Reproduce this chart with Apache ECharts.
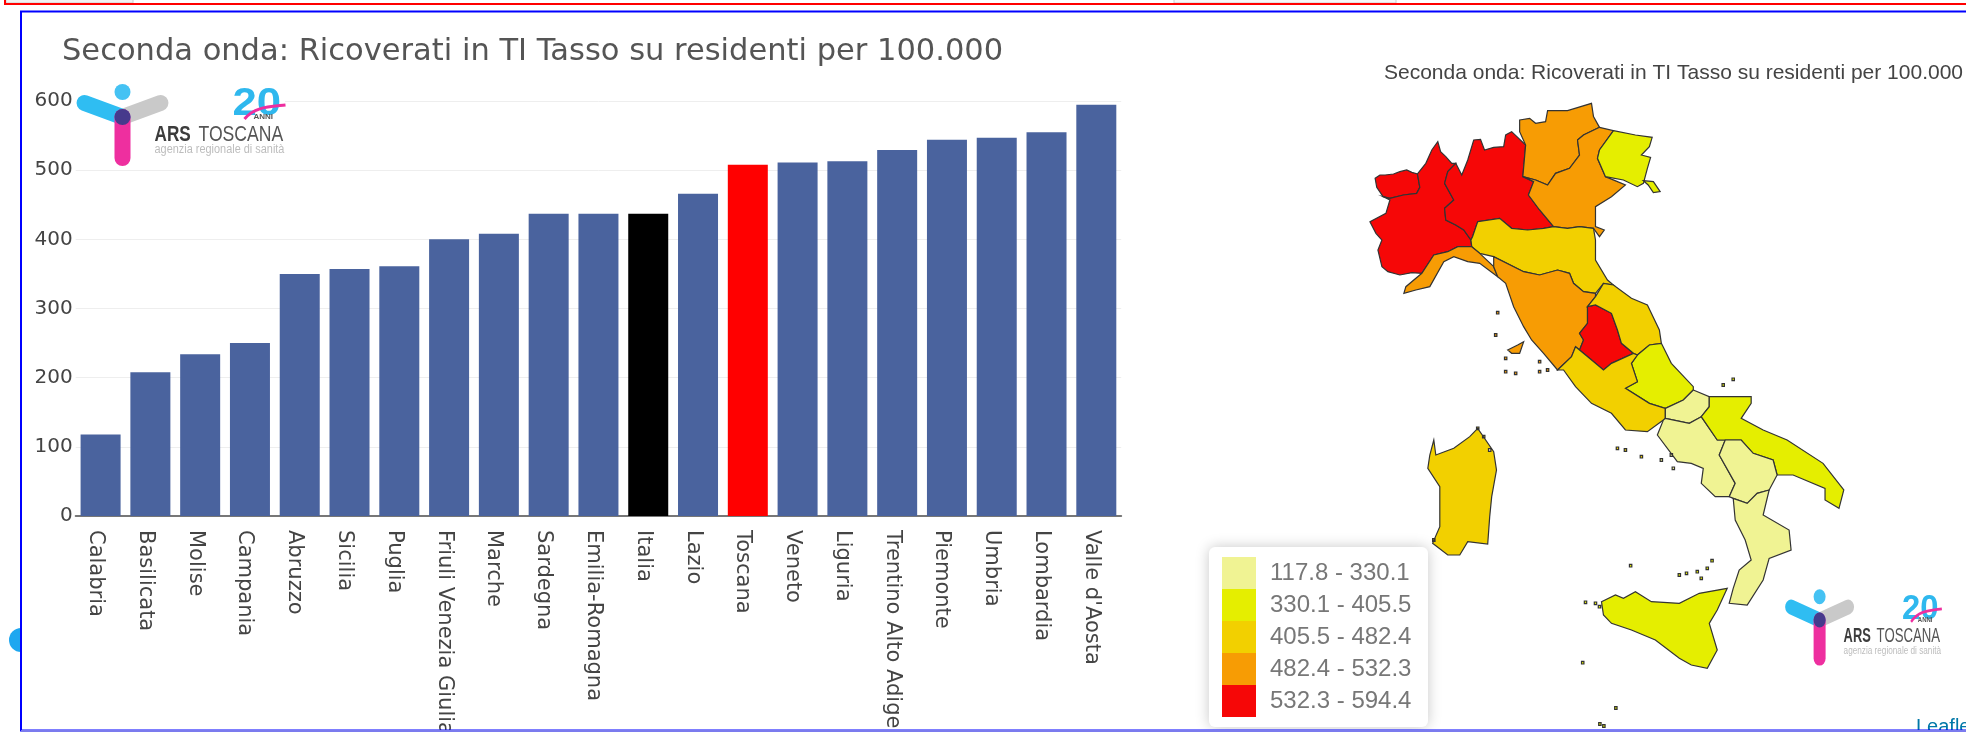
<!DOCTYPE html>
<html>
<head>
<meta charset="utf-8">
<style>
  html, body { margin: 0; padding: 0; background: #fff; overflow: hidden; }
  #chart { width: 1966px; height: 732px; }
</style>
<script src="https://cdn.jsdelivr.net/npm/echarts@6/dist/echarts.min.js"></script>
</head>
<body>
<div id="chart"></div>
<script>
const chartTitle = 'Seconda onda: Ricoverati in TI Tasso su residenti per 100.000'
const categories = ['Calabria', 'Basilicata', 'Molise', 'Campania', 'Abruzzo', 'Sicilia', 'Puglia',
  'Friuli Venezia Giulia', 'Marche', 'Sardegna', 'Emilia-Romagna', 'Italia', 'Lazio', 'Toscana',
  'Veneto', 'Liguria', 'Trentino Alto Adige', 'Piemonte', 'Umbria', 'Lombardia', "Valle d'Aosta"]
const values = [117.8, 208, 234, 250, 350, 357, 361, 400, 408, 437, 437, 437, 466, 508, 511, 513, 529, 544, 547, 555, 594.4]
const highlightColors = { Italia: '#000000', Toscana: '#ff0000' }

const classLabels = ['117.8 - 330.1', '330.1 - 405.5', '405.5 - 482.4', '482.4 - 532.3', '532.3 - 594.4']
const classBreaks = [117.8, 330.1, 405.5, 482.4, 532.3, 594.4]
const classColors = ['#f0f393', '#e5ee00', '#f2d000', '#f79c04', '#f60707']

// outlines (x 2.505 units per px from 1340, y 3 units per px from 40)
const outlines = {
  "Valle d'Aosta": [[[88,415],[100,405],[113,405],[134,402],[150,395],[167,390],[180,397],[194,402],[200,442],[192,460],[159,465],[125,475],[108,470],[92,442]]],
  'Piemonte': [[[245,305],[252,335],[265,350],[280,370],[290,370],[270,395],[262,430],[285,480],[262,505],[265,540],[290,555],[310,570],[328,600],[330,620],[295,620],[270,635],[235,645],[205,700],[180,698],[150,705],[120,695],[105,680],[95,630],[105,600],[90,580],[75,545],[115,520],[125,480],[108,470],[125,475],[159,465],[192,460],[200,442],[194,402],[215,370],[230,330]]],
  'Lombardia': [[[262,430],[270,395],[290,370],[305,405],[320,360],[335,300],[352,298],[362,330],[385,322],[410,320],[415,285],[430,275],[465,315],[458,410],[485,425],[472,465],[500,510],[535,560],[510,565],[470,570],[430,565],[400,535],[345,545],[332,590],[328,600],[310,570],[290,555],[265,540],[262,505],[285,480]]],
  'Trentino Alto Adige': [[[450,240],[475,235],[490,250],[515,245],[520,212],[570,212],[630,190],[635,230],[650,262],[610,285],[595,300],[600,345],[575,385],[540,400],[520,435],[490,420],[458,410],[465,315],[450,275]]],
  'Veneto': [[[650,262],[685,272],[650,330],[645,355],[665,410],[715,435],[680,470],[640,500],[640,560],[662,570],[650,590],[635,565],[600,560],[570,565],[535,560],[500,510],[472,465],[485,425],[458,410],[490,420],[520,435],[540,400],[575,385],[600,345],[595,300],[610,285]]],
  'Friuli Venezia Giulia': [[[685,272],[740,285],[782,292],[775,320],[755,345],[778,352],[770,385],[760,430],[745,440],[710,420],[665,410],[645,355],[650,330]], [[760,422],[785,425],[802,455],[785,458],[772,435]]],
  'Emilia-Romagna': [[[345,545],[400,535],[430,565],[470,570],[510,565],[535,560],[570,565],[600,560],[635,565],[640,600],[640,660],[670,720],[685,735],[660,730],[640,760],[610,755],[585,730],[575,700],[545,690],[500,705],[460,695],[385,650],[350,640],[330,620],[328,600],[332,590]]],
  'Liguria': [[[330,620],[350,640],[385,680],[395,710],[350,670],[320,665],[285,650],[260,665],[225,740],[190,750],[160,760],[165,740],[205,700],[235,645],[270,635],[295,620]]],
  'Toscana': [[[385,650],[460,695],[500,705],[545,690],[575,700],[585,730],[610,755],[640,760],[640,770],[620,800],[620,850],[600,880],[610,900],[600,930],[590,920],[580,950],[545,990],[510,940],[480,900],[460,860],[435,800],[415,730],[395,710],[385,680]], [[420,930],[445,915],[460,905],[450,940],[430,940]]],
  'Umbria': [[[620,800],[640,795],[680,820],[695,870],[705,910],[735,940],[680,970],[660,990],[625,955],[600,930],[610,900],[600,880],[620,850]]],
  'Marche': [[[640,770],[660,730],[685,735],[730,775],[770,795],[800,870],[805,910],[775,915],[745,945],[735,940],[705,910],[695,870],[680,820],[640,795],[620,800]]],
  'Abruzzo': [[[805,910],[830,970],[885,1040],[885,1050],[860,1080],[815,1105],[775,1090],[715,1045],[745,1025],[730,970],[745,945],[775,915]]],
  'Lazio': [[[600,930],[625,955],[660,990],[680,970],[735,940],[745,945],[730,970],[745,1025],[715,1045],[775,1090],[815,1105],[815,1135],[810,1140],[770,1175],[715,1170],[680,1120],[630,1090],[590,1040],[560,990],[545,990],[580,950],[590,920]]],
  'Molise': [[[885,1050],[925,1070],[925,1100],[905,1130],[875,1150],[815,1135],[815,1105],[860,1080]]],
  'Campania': [[[815,1135],[875,1150],[905,1130],[945,1200],[965,1200],[950,1245],[990,1330],[975,1370],[940,1370],[905,1330],[910,1285],[880,1270],[845,1265],[795,1185],[810,1140]]],
  'Puglia': [[[925,1070],[1030,1070],[1030,1090],[1005,1135],[1060,1170],[1120,1200],[1210,1270],[1262,1350],[1250,1405],[1215,1380],[1215,1345],[1135,1305],[1095,1305],[1085,1260],[1035,1240],[1005,1200],[965,1200],[945,1200],[905,1130],[925,1100]]],
  'Basilicata': [[[965,1200],[1005,1200],[1035,1240],[1085,1260],[1095,1305],[1075,1350],[1045,1360],[1020,1390],[985,1375],[975,1370],[990,1330],[950,1245]]],
  'Calabria': [[[985,1375],[1020,1390],[1045,1360],[1075,1350],[1060,1425],[1125,1470],[1130,1530],[1075,1555],[1060,1620],[1020,1695],[975,1690],[985,1645],[1000,1590],[1030,1560],[1015,1500],[990,1440]]],
  'Sardegna': [[[235,1200],[225,1245],[220,1285],[250,1340],[250,1460],[232,1510],[270,1545],[300,1545],[320,1505],[370,1512],[375,1430],[380,1370],[392,1290],[385,1235],[345,1165],[325,1190],[285,1225],[240,1245]]],
  'Sicilia': [[[655,1685],[690,1665],[710,1675],[740,1655],[780,1685],[850,1690],[900,1660],[970,1645],[945,1710],[925,1750],[945,1830],[920,1885],[880,1875],[850,1855],[790,1800],[730,1770],[680,1750],[660,1725]]]
}
const islandDots = {
  'Toscana': [[395,818],[390,885],[415,955],[500,965],[500,995],[520,990],[440,1000],[415,995]],
  'Lazio': [[695,1225],[715,1230],[755,1250]],
  'Campania': [[805,1260],[830,1245],[835,1285]],
  'Puglia': [[960,1035],[985,1018]],
  'Sardegna': [[345,1165],[360,1190],[375,1230],[235,1500]],
  'Sicilia': [[728,1577],[850,1605],[868,1600],[895,1595],[920,1585],[905,1615],[932,1562],[615,1687],[640,1690],[650,1700],[608,1868],[691,2004],[661,2058],[651,2052]]
}

function toPage(p) {
  return [1340 + p[0] / 2.505, -(40 + p[1] / 3)]
}
function dotRing(p) {
  return [[p[0] - 3, p[1] - 4], [p[0] + 3, p[1] - 4], [p[0] + 3, p[1] + 4], [p[0] - 3, p[1] + 4]]
}
const italy = {
  type: 'FeatureCollection',
  features: Object.keys(outlines).map(name => {
    const rings = outlines[name].concat((islandDots[name] || []).map(dotRing))
    return {
      type: 'Feature',
      properties: { name: name },
      geometry: { type: 'MultiPolygon', coordinates: rings.map(r => [r.map(toPage).concat([toPage(r[0])])]) }
    }
  })
}
echarts.registerMap('italia', italy)

// ARS logo, drawn around the point where the three arms meet
function logo(x, y, sx, sy) {
  const arm = (x2, y2, color) => ({ type: 'line', z: 6, shape: { x1: 0, y1: 0, x2: x2, y2: y2 }, style: { stroke: color, lineWidth: 16, lineCap: 'round' } })
  const word = (x, y, text, font, color, scale) => ({ type: 'text', z: 6, x: x, y: y, scaleX: scale || 1, style: { text: text, font: font, fill: color, textVerticalAlign: 'middle' } })
  return {
    type: 'group', x: x, y: y, scaleX: sx, scaleY: sy,
    children: [
      arm(38, -14, '#c9c9c9'),
      arm(-38, -14, '#2fbdf2'),
      arm(0, 41, '#ee2f9f'),
      { type: 'circle', z: 6, shape: { cx: 0, cy: 0, r: 8 }, style: { fill: '#463a8c' } },
      { type: 'circle', z: 6, shape: { cx: 0, cy: -25, r: 8 }, style: { fill: '#45c2f3' } },
      word(110, -12, '20', 'bold 38px "Liberation Sans"', '#2fb8ee', 1.15),
      { type: 'bezierCurve', z: 6, shape: { x1: 122, y1: 2, cpx1: 132, cpy1: -10, cpx2: 145, cpy2: -10, x2: 163, y2: -12 }, style: { stroke: '#ee2f9f', lineWidth: 3, fill: 'none' } },
      word(131, 0, 'ANNI', 'bold 8px "Liberation Sans"', '#555'),
      word(32, 18, 'ARS', 'bold 22px "Liberation Sans"', '#3c3c3c', 0.78),
      word(76, 18, 'TOSCANA', '22px "Liberation Sans"', '#555', 0.8),
      word(32, 33, 'agenzia regionale di sanità', '12px "Liberation Sans"', '#bdbdbd', 0.91)
    ]
  }
}

const chart = echarts.init(document.getElementById('chart'), null, { renderer: 'canvas' })
chart.setOption({
  animation: false,
  backgroundColor: '#fff',
  title: [
    { text: chartTitle, left: 57, top: 32, textStyle: { fontFamily: 'DejaVu Sans', fontWeight: 'normal', fontSize: 30.5, color: '#555' } },
    { text: chartTitle, left: 1379, top: 58, textStyle: { fontFamily: 'Liberation Sans', fontWeight: 'normal', fontSize: 21, color: '#444' } }
  ],
  grid: { left: 75.7, top: 101, width: 1045.5, height: 415, containLabel: false, outerBoundsMode: 'none' },
  xAxis: {
    type: 'category',
    data: categories,
    axisLine: { lineStyle: { color: '#777', width: 2 } },
    axisTick: { show: false },
    axisLabel: { rotate: -90, interval: 0, margin: 14, verticalAlign: 'top', lineHeight: 10, hideOverlap: false, fontFamily: 'DejaVu Sans', fontSize: 21, color: '#444' }
  },
  yAxis: {
    type: 'value',
    min: 0,
    max: 600,
    interval: 100,
    axisLine: { show: false },
    axisTick: { show: false },
    axisLabel: { margin: 3, fontFamily: 'DejaVu Sans', fontSize: 20, color: '#444' },
    splitLine: { lineStyle: { color: '#eeeeee', width: 1 } }
  },
  visualMap: {
    type: 'piecewise',
    seriesIndex: 1,
    left: 1222,
    top: 557,
    padding: 0,
    inverse: true,
    itemWidth: 34,
    itemHeight: 32,
    itemGap: 0,
    itemSymbol: 'rect',
    textGap: 14,
    selectedMode: false,
    hoverLink: false,
    align: 'left',
    textStyle: { fontFamily: 'Liberation Sans', fontSize: 24, color: '#777' },
    pieces: classLabels.map((label, i) => ({ min: classBreaks[i], max: classBreaks[i + 1], label: label, color: classColors[i] }))
  },
  graphic: [
    { type: 'rect', shape: { x: 6, y: -2, width: 127, height: 5 }, style: { fill: '#f2f2f2', stroke: '#cccccc', lineWidth: 1 }, z: 3 },
    { type: 'rect', shape: { x: 1174, y: -2, width: 222, height: 5 }, style: { fill: '#f7f7f7', stroke: '#cccccc', lineWidth: 1 }, z: 3 },
    { type: 'polyline', shape: { points: [[1966, 4], [5, 4], [5, 0]] }, style: { stroke: '#ff0000', lineWidth: 2, fill: 'none' }, z: 3 },
    { type: 'sector', shape: { cx: 21, cy: 640, r: 12, r0: 0, startAngle: Math.PI / 2, endAngle: Math.PI * 1.5 }, style: { fill: '#1ea7f0' }, z: 3 },
    { type: 'text', x: 1916, y: 717, style: { text: 'Leaflet', font: '20px "Liberation Sans"', fill: '#0078a8' }, z: 3 },
    { type: 'rect', shape: { x: 21, y: 11.5, width: 1946, height: 719 }, style: { stroke: '#0000ff', lineWidth: 2, fill: 'none' }, z: 4 },
    { type: 'line', shape: { x1: 21, y1: 731, x2: 1966, y2: 731 }, style: { stroke: '#7b7bee', lineWidth: 2 }, z: 4 },
    { type: 'rect', shape: { x: 1209, y: 547, width: 219, height: 180, r: 6 }, style: { fill: '#fff', shadowBlur: 14, shadowColor: 'rgba(0,0,0,0.22)' }, z: 1 },
    { type: 'rect', shape: { x: 76, y: 85, width: 209, height: 80 }, style: { fill: '#fff' }, z: 5 },
    logo(122.5, 117, 1, 1),
    logo(1819.6, 620, 0.75, 0.93)
  ],
  series: [
    {
      type: 'bar',
      silent: true,
      barWidth: 40,
      data: values.map((v, i) => ({
        value: v,
        itemStyle: { color: highlightColors[categories[i]] || '#4a639e' }
      }))
    },
    {
      type: 'map',
      map: 'italia',
      silent: true,
      aspectScale: 1,
      left: 1340,
      top: 40,
      width: 626,
      height: 692,
      boundingCoords: [[1340, -40], [1966, -732]],
      label: { show: false },
      emphasis: { disabled: true },
      itemStyle: { borderColor: '#333', borderWidth: 1.2 },
      data: categories.filter(c => outlines[c]).map(c => ({ name: c, value: values[categories.indexOf(c)] }))
    }
  ]
})
</script>
</body>
</html>
